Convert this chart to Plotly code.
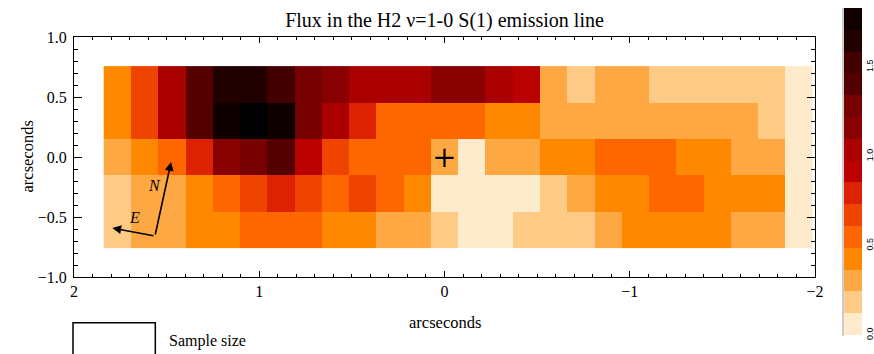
import plotly.graph_objects as go

# ---------------- data ----------------
title_text = "Flux in the H2 \u03bd=1-0 S(1) emission line"
axis_label = "arcseconds"

# grid geometry (arcsec): column centres start at x0, step dx (x axis runs 2 -> -2)
col_x0 = 1.766
col_dx = -0.1472
row_y0 = -0.606
row_dy = 0.303

# flux per cell, rows listed from TOP (y=+0.6) to BOTTOM (y=-0.6), 26 columns each
flux_top_to_bottom = [
    [0.43, 0.67, 1.04, 1.40, 1.65, 1.65, 1.53, 1.28, 1.16, 1.04, 1.04, 1.04, 1.16,
     1.16, 1.04, 0.92, 0.31, 0.18, 0.31, 0.31, 0.18, 0.18, 0.18, 0.18, 0.18, 0.06],
    [0.43, 0.67, 1.04, 1.40, 1.77, 1.89, 1.77, 1.28, 1.04, 0.79, 0.55, 0.55, 0.55,
     0.55, 0.43, 0.43, 0.31, 0.31, 0.31, 0.31, 0.31, 0.31, 0.31, 0.31, 0.18, 0.06],
    [0.31, 0.43, 0.55, 0.79, 1.16, 1.28, 1.40, 0.92, 0.67, 0.55, 0.55, 0.55, 0.31,
     0.06, 0.31, 0.31, 0.43, 0.43, 0.55, 0.55, 0.55, 0.43, 0.43, 0.31, 0.31, 0.06],
    [0.18, 0.31, 0.31, 0.43, 0.55, 0.67, 0.79, 0.67, 0.55, 0.67, 0.55, 0.43, 0.06,
     0.06, 0.06, 0.06, 0.18, 0.31, 0.43, 0.43, 0.55, 0.55, 0.43, 0.43, 0.43, 0.06],
    [0.18, 0.31, 0.31, 0.43, 0.43, 0.55, 0.55, 0.55, 0.43, 0.43, 0.31, 0.31, 0.18,
     0.06, 0.06, 0.18, 0.18, 0.18, 0.31, 0.43, 0.43, 0.43, 0.43, 0.31, 0.31, 0.06],
]

band_colors = ["#FEEBCB", "#FECB87", "#FEA844", "#FE8800", "#FE6600", "#EE4400",
               "#DC2200", "#BB0000", "#AA0000", "#880000", "#770000", "#550000",
               "#420000", "#210000", "#110000"]
over_color = "#000000"
cbar_max = 1.83
cbar_tickvals = [0.0, 0.5, 1.0, 1.5]
cbar_ticktext = ["0.0", "0.5", "1.0", "1.5"]

x_tickvals = [2, 1, 0, -1, -2]
x_ticktext = ["2", "1", "0", "\u22121", "\u22122"]

center_mark = (0.0, -0.008)
compass_origin = (1.563, -0.658)
compass_N_tip = (1.476, -0.042)
compass_E_tip = (1.793, -0.592)
compass_N_label = (1.563, -0.236)
compass_E_label = (1.675, -0.505)

# ---------------- figure ----------------
def discrete_scale(cols):
    n = len(cols)
    cs = []
    for i, c in enumerate(cols):
        cs.append([i / n, c])
        cs.append([(i + 1) / n, c])
    return cs

band_w = cbar_max / len(band_colors)
heat_cols = band_colors + [over_color]
heat_max = cbar_max + band_w

z = flux_top_to_bottom[::-1]

serif = "Liberation Serif, Times New Roman, serif"

fig = go.Figure()
fig.add_trace(go.Heatmap(
    z=z, x0=col_x0, dx=col_dx, y0=row_y0, dy=row_dy,
    zmin=0, zmax=heat_max, colorscale=discrete_scale(heat_cols),
    showscale=False, hoverinfo="skip"))

# colour bar (15 bands 0..cbar_max)
fig.add_trace(go.Scatter(
    x=[0], y=[5], mode="markers", hoverinfo="skip", showlegend=False,
    marker=dict(color=[0], cmin=0, cmax=cbar_max,
                colorscale=discrete_scale(band_colors), showscale=True,
                colorbar=dict(x=(844 - 74) / 741, xanchor="left", xpad=0, ypad=0,
                              thickness=18, thicknessmode="pixels",
                              len=327, lenmode="pixels",
                              y=(277 - 171.5) / 240, yanchor="middle",
                              outlinewidth=0, ticks="", ticklabelposition="outside",
                              tickvals=cbar_tickvals, ticktext=cbar_ticktext,
                              tickangle=-90,
                              tickfont=dict(family="Liberation Sans, Arial", size=9,
                                            color="black")))))

fig.add_trace(go.Scatter(
    x=[center_mark[0]], y=[center_mark[1]], mode="markers", hoverinfo="skip",
    showlegend=False,
    marker=dict(symbol="cross-thin", size=13, line=dict(color="black", width=2.2))))

axis_common = dict(showline=True, linecolor="black", linewidth=1, mirror="ticks",
                   ticks="inside", tickcolor="black", showgrid=False, zeroline=False,
                   automargin=False,
                   tickfont=dict(family=serif, size=16, color="black"))

fig.update_xaxes(range=[2, -2], tickvals=x_tickvals, ticktext=x_ticktext,
                 ticklen=6, minor=dict(ticks="inside", dtick=0.1, ticklen=3,
                                       tickcolor="black"),
                 **axis_common)
fig.update_yaxes(range=[-1, 1], dtick=0.5, tickformat=".1f", ticklen=8,
                 ticklabelstandoff=3,
                 minor=dict(ticks="inside", dtick=0.1, ticklen=4, tickcolor="black"),
                 **axis_common)

ann = []
# compass arrows
for tip in (compass_N_tip, compass_E_tip):
    ann.append(dict(x=tip[0], y=tip[1], ax=compass_origin[0], ay=compass_origin[1],
                    xref="x", yref="y", axref="x", ayref="y", text="",
                    showarrow=True, arrowhead=2, arrowsize=1.1, arrowwidth=1.6,
                    arrowcolor="black"))
for pos, t in ((compass_N_label, "N"), (compass_E_label, "E")):
    ann.append(dict(x=pos[0], y=pos[1], xref="x", yref="y", text="<i>%s</i>" % t,
                    showarrow=False, font=dict(family=serif, size=16, color="black")))
# axis titles
ann.append(dict(x=0.5, y=(277 - 322) / 240, xref="paper", yref="paper",
                text=axis_label, showarrow=False, yanchor="middle",
                font=dict(family=serif, size=16.5, color="black")))
ann.append(dict(x=(15 - 74) / 741, y=0.5, xref="paper", yref="paper",
                text=axis_label, showarrow=False, textangle=-90,
                font=dict(family=serif, size=16.5, color="black")))
ann.append(dict(x=(167 - 74) / 741, y=(277 - 341) / 240, xref="paper", yref="paper",
                text="Sample size", showarrow=False, xanchor="left", yanchor="middle",
                font=dict(family=serif, size=16, color="black")))

shapes = [
    dict(type="rect", xref="paper", yref="paper",
         x0=(73 - 74) / 741, x1=(155.3 - 74) / 741,
         y0=(277 - 322.7) / 240, y1=(277 - 370) / 240,
         line=dict(color="black", width=1.5), fillcolor="rgba(0,0,0,0)"),
    dict(type="line", xref="paper", yref="paper",
         x0=(843 - 74) / 741, x1=(843 - 74) / 741,
         y0=(277 - 8) / 240, y1=(277 - 336) / 240,
         line=dict(color="#999999", width=1)),
]

fig.update_layout(
    width=874, height=354,
    margin=dict(l=74, r=59, t=37, b=77, autoexpand=False),
    paper_bgcolor="white", plot_bgcolor="white",
    showlegend=False,
    title=dict(text=title_text, x=0.5, xref="paper", xanchor="center",
               y=1 - 20 / 354, yref="container", yanchor="middle",
               automargin=False,
               font=dict(family=serif, size=20, color="black")),
    annotations=ann, shapes=shapes,
)

fig.write_html("out.html", config={"displayModeBar": False},
               post_script="document.body.style.margin='0';document.body.style.overflow='hidden';")
